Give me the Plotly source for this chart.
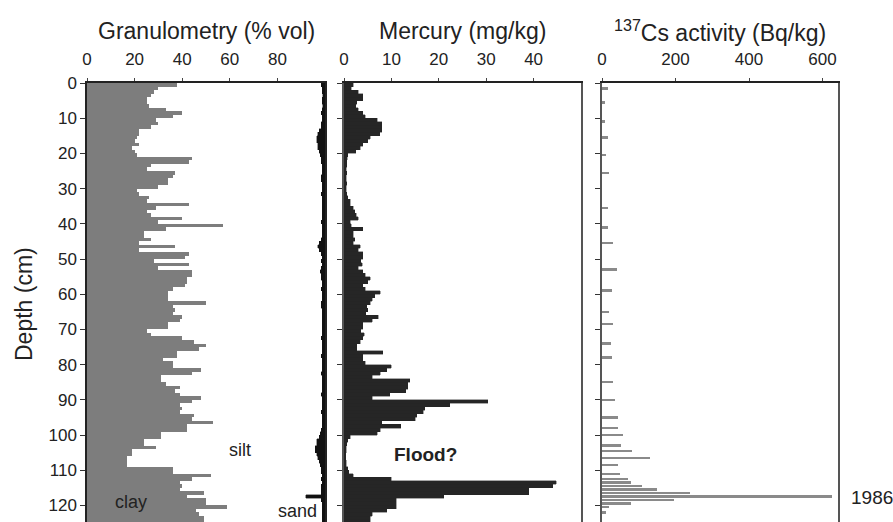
import plotly.graph_objects as go

# ---------------- data ----------------
depth_cm = list(range(125))  # 1-cm slices, top of slice

clay_pct = [38, 30, 28, 27, 25, 25, 26, 33, 40, 36,
            29, 30, 27, 22, 22, 21, 20, 22, 19, 20,
            21, 44, 43, 27, 25, 37, 36, 34, 34, 30,
            21, 22, 26, 25, 43, 29, 25, 27, 40, 30,
            57, 33, 24, 24, 27, 22, 37, 22, 43, 41,
            28, 43, 30, 44, 44, 42, 42, 41, 36, 34,
            34, 34, 50, 36, 37, 36, 40, 39, 34, 34,
            25, 27, 40, 45, 50, 47, 38, 38, 32, 36,
            36, 48, 44, 31, 31, 33, 39, 37, 39, 48,
            44, 39, 40, 39, 45, 44, 53, 42, 42, 31,
            31, 24, 24, 29, 19, 19, 17, 17, 17, 36,
            36, 52, 44, 39, 40, 39, 49, 42, 50, 50,
            59, 46, 47, 49, 49]

sand_pct = [1.5, 1.2, 1.2, 1.0, 1.2, 1.2, 1.0, 1.2, 1.5, 1.2,
            1.2, 1.5, 1.5, 2.5, 3.0, 3.5, 3.5, 3.0, 3.0, 2.5,
            2.0, 1.5, 1.5, 1.2, 1.2, 1.2, 1.5, 1.5, 1.2, 1.2,
            1.2, 1.5, 1.2, 1.2, 1.2, 1.2, 1.2, 1.2, 1.2, 1.5,
            1.2, 1.2, 1.2, 1.2, 1.5, 2.5, 3.0, 2.5, 1.5, 1.2,
            1.5, 1.2, 1.5, 2.0, 1.5, 1.5, 1.2, 1.2, 1.5, 1.2,
            1.2, 1.2, 1.5, 1.5, 1.2, 1.2, 1.2, 1.2, 1.2, 1.2,
            1.2, 1.2, 1.5, 1.2, 1.2, 1.2, 1.2, 1.5, 1.2, 1.2,
            1.2, 1.2, 1.5, 1.2, 1.2, 1.2, 1.2, 1.2, 1.5, 1.2,
            1.2, 1.2, 1.2, 1.5, 1.2, 1.2, 1.2, 1.2, 1.5, 2.0,
            2.5, 3.5, 3.5, 4.0, 4.0, 3.5, 3.0, 2.5, 2.0, 1.5,
            1.5, 1.2, 1.5, 1.2, 1.5, 1.5, 1.5, 8.0, 1.5, 1.2,
            1.2, 1.2, 1.2, 1.2, 1.2]

silt_pct = [100 - c - s for c, s in zip(clay_pct, sand_pct)]

mercury_mgkg = [2, 1.5, 3, 4, 4, 2.7, 2.5, 3, 4, 4.5,
                7, 8, 8, 8, 7.5, 5.5, 5, 4, 3.4, 2.5,
                0.8, 0.7, 0.6, 0.6, 0.5, 0.6, 0.5, 0.5, 0.6, 0.5,
                0.5, 0.6, 0.8, 1.3, 1.3, 2, 2.3, 2.6, 3, 1.3,
                1.5, 4, 2, 2, 2.3, 2, 3.4, 3, 4, 4,
                3.5, 3.8, 3, 4, 4.5, 5.5, 5, 4, 4.5, 7.6,
                6.5, 6, 5.5, 4.8, 5, 4.6, 7.2, 6, 4, 4,
                3.5, 4.3, 4, 3.4, 2.7, 2.7, 8.2, 4, 4, 4.5,
                10, 9, 7.6, 6, 13.9, 13.5, 13.5, 13, 9.7, 6,
                30.3, 22.3, 17, 16.7, 15.3, 15, 8, 12, 7.6, 7,
                1.3, 0.8, 0.6, 0.5, 0.5, 0.4, 0.4, 0.5, 0.5, 0.8,
                1.0, 2, 10, 44.8, 44, 39, 39, 21, 11, 11,
                11, 9, 6, 5.5, 5.5]

cs_depth = [1.5, 5.5, 11, 15.5, 20.5, 25.5, 35.5, 41, 45.5, 53, 59, 65, 68.5,
            74, 78, 85, 90, 95, 98, 100, 103, 104.5, 106.5, 108.5, 111,
            112.5, 113.5, 114.5, 115.5, 116.5, 117.5, 118.5, 119.5, 120.5, 122]
cs_activity = [17, 8, 8, 17, 12, 20, 17, 17, 30, 40, 26, 20, 30,
               24, 26, 30, 35, 44, 44, 57, 52, 81, 130, 44, 48,
               70, 80, 110, 150, 240, 625, 195, 80, 20, 12]

gran_ticks = [0, 20, 40, 60, 80]
hg_ticks = [0, 10, 20, 30, 40]
cs_ticks = [0, 200, 400, 600]
depth_ticks = list(range(0, 130, 10))

# ---------------- figure ----------------
FONT = "Liberation Sans, Arial, sans-serif"
mid = [d + 0.5 for d in depth_cm]

fig = go.Figure()
fig.add_trace(go.Bar(x=clay_pct, y=mid, orientation="h", width=1.0,
                     marker=dict(color="#7d7d7d", line=dict(color="#7d7d7d", width=0.4)),
                     xaxis="x", yaxis="y", name="clay"))
fig.add_trace(go.Bar(x=silt_pct, y=mid, orientation="h", width=1.0,
                     marker=dict(color="white", line=dict(width=0)),
                     xaxis="x", yaxis="y", name="silt"))
fig.add_trace(go.Bar(x=sand_pct, y=mid, orientation="h", width=1.0,
                     marker=dict(color="#111111", line=dict(color="#111111", width=0.4)),
                     xaxis="x", yaxis="y", name="sand"))
fig.add_trace(go.Bar(x=mercury_mgkg, y=mid, orientation="h", width=1.0,
                     marker=dict(color="#262626", line=dict(color="#262626", width=0.4)),
                     xaxis="x2", yaxis="y2", name="Hg"))
fig.add_trace(go.Bar(x=cs_activity, y=cs_depth, orientation="h", width=0.7,
                     marker=dict(color="#8a8a8a", line=dict(width=0)),
                     xaxis="x3", yaxis="y3", name="Cs"))

W, H = 893, 522
ytop = 1 - 83 / H
yrange = [124.7, 0]

def xax(domain, rng, ticks, anchor):
    return dict(domain=domain, range=rng, side="top", anchor=anchor,
                tickvals=ticks, showgrid=False, zeroline=False, automargin=False,
                showline=True, linecolor="#222", linewidth=1.5,
                ticks="outside", ticklen=3, tickcolor="#444",
                ticklabelstandoff=6,
                tickfont=dict(family=FONT, size=17, color="#222"),
                fixedrange=True)

def yax(domain, anchor, labels, linecolor):
    return dict(domain=domain, range=yrange, anchor=anchor,
                tickvals=depth_ticks, showticklabels=labels,
                showgrid=False, zeroline=False, automargin=False,
                showline=True, mirror=True, linecolor=linecolor, linewidth=1.5,
                ticks="outside", ticklen=5, tickcolor="#333",
                tickfont=dict(family=FONT, size=17, color="#222"),
                fixedrange=True)

fig.update_layout(
    width=W, height=H,
    margin=dict(l=0, r=0, t=0, b=0, autoexpand=False),
    paper_bgcolor="white", plot_bgcolor="white",
    barmode="stack", showlegend=False,
    xaxis=xax([87 / W, 325 / W], [0, 100], gran_ticks, "y"),
    yaxis=yax([0, ytop], "x", True, "#222"),
    xaxis2=xax([344 / W, 581 / W], [0, 50], hg_ticks, "y2"),
    yaxis2=yax([0, ytop], "x2", False, "#555"),
    xaxis3=xax([602 / W, 838 / W], [0, 642], cs_ticks, "y3"),
    yaxis3=yax([0, ytop], "x3", False, "#555"),
    font=dict(family=FONT, color="#222"),
)

def ann(text, x, y, size, xanchor="center", **kw):
    fig.add_annotation(text=text, x=x / W, y=1 - y / H, xref="paper", yref="paper",
                       showarrow=False, font=dict(family=FONT, size=size, color="#222"),
                       xanchor=xanchor, yanchor="middle", **kw)

ann("Granulometry (% vol)", 206, 31, 23)
ann("Mercury (mg/kg)", 462, 31, 23)
ann("<sup>137</sup>Cs activity (Bq/kg)", 720, 31, 23)
ann("Depth (cm)", 24, 304, 23, textangle=-90)
ann("silt", 240, 450, 18)
ann("clay", 131, 502, 18)
ann("sand", 297, 511, 18)
ann("<b>Flood?</b>", 425, 454, 19)
ann("1986", 849, 497, 19, xanchor="left")

fig.write_html(
    "out.html",
    config={"displayModeBar": False},
    post_script="document.body.style.margin='0';document.body.style.padding='0';",
)
